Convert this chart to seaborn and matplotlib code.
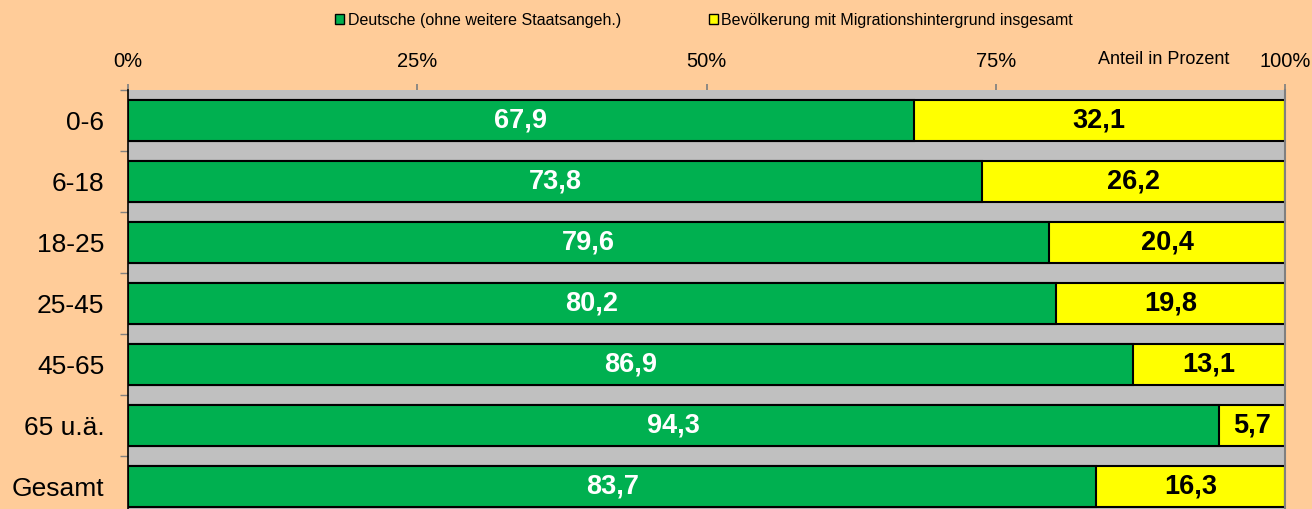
import matplotlib
matplotlib.use("Agg")
import matplotlib.pyplot as plt
from matplotlib.patches import Patch
import seaborn as sns
import pandas as pd
import numpy as np

categories = ["0-6", "6-18", "18-25", "25-45", "45-65", "65 u.ä.", "Gesamt"]
deutsche = [67.9, 73.8, 79.6, 80.2, 86.9, 94.3, 83.7]
migration = [32.1, 26.2, 20.4, 19.8, 13.1, 5.7, 16.3]
xticks = [0, 25, 50, 75, 100]
xticklabels = ["0%", "25%", "50%", "75%", "100%"]
series_names = ["Deutsche (ohne weitere Staatsangeh.)",
                "Bevölkerung mit Migrationshintergrund insgesamt"]

GREEN = "#00B050"
YELLOW = "#FFFF00"
BG = "#FFCC99"
PLOT_BG = "#C0C0C0"

sns.set_theme(style="white")
plt.rcParams["font.family"] = ["Liberation Sans", "DejaVu Sans"]
plt.rcParams["text.color"] = "black"
plt.rcParams["xtick.labelcolor"] = "black"
plt.rcParams["ytick.labelcolor"] = "black"

df = pd.DataFrame({
    "cat": categories,
    "de": deutsche,
    "mig": migration,
})
df["total"] = df["de"] + df["mig"]

fig = plt.figure(figsize=(13.12, 5.09), dpi=100, facecolor=BG)
ax = fig.add_axes([128 / 1312, -8 / 509, (1285 - 128) / 1312, (517 - 90) / 509])
ax.set_facecolor(PLOT_BG)

sns.barplot(data=df, x="total", y="cat", orient="h", color=YELLOW,
            edgecolor="black", linewidth=1.5, width=0.67, saturation=1, ax=ax)
sns.barplot(data=df, x="de", y="cat", orient="h", color=GREEN,
            edgecolor="black", linewidth=1.5, width=0.67, saturation=1, ax=ax)

for i, (d, m) in enumerate(zip(deutsche, migration)):
    ax.text(d / 2, i, f"{d:.1f}".replace(".", ","), ha="center", va="center",
            color="white", fontsize=19.5, fontweight="bold")
    ax.text(d + m / 2, i, f"{m:.1f}".replace(".", ","), ha="center", va="center",
            color="black", fontsize=19.5, fontweight="bold")

ax.set_xlim(0, 100)
ax.set_ylim(len(categories) - 0.5, -0.5)
ax.xaxis.tick_top()
ax.set_xticks(xticks)
ax.set_xticklabels(xticklabels, fontsize=14.5)
ax.tick_params(axis="x", which="major", top=True, bottom=False, length=4.5,
               color="#808080", pad=9, labelcolor="black", direction="out")
ax.set_yticks(range(len(categories)))
ax.set_yticklabels(categories, fontsize=19)
ax.tick_params(axis="y", which="major", left=True, length=0, pad=17,
               labelcolor="black")
ax.set_yticks(np.arange(-0.5, len(categories) + 0.5, 1), minor=True)
ax.tick_params(axis="y", which="minor", left=True, length=6, color="#808080",
               direction="out", width=1)
ax.set_xlabel("")
ax.set_ylabel("")

for s in ["top", "bottom"]:
    ax.spines[s].set_visible(False)
ax.spines["left"].set_color("black")
ax.spines["left"].set_linewidth(1.2)
ax.spines["right"].set_color("#808080")
ax.spines["right"].set_linewidth(1.5)

fig.text(1164 / 1312, 1 - 60 / 509, "Anteil in Prozent", ha="center", va="center",
         fontsize=13, color="black")

handles = [Patch(facecolor=GREEN, edgecolor="black", linewidth=1),
           Patch(facecolor=YELLOW, edgecolor="black", linewidth=1)]
fig.legend(handles, series_names, loc="center", bbox_to_anchor=(704 / 1312, 1 - 20 / 509),
           ncol=2, frameon=False, fontsize=11.5, handlelength=0.6, handleheight=0.6,
           handletextpad=0.2, columnspacing=5.5, labelcolor="black")

fig.savefig("out.png", dpi=100, facecolor=BG)
